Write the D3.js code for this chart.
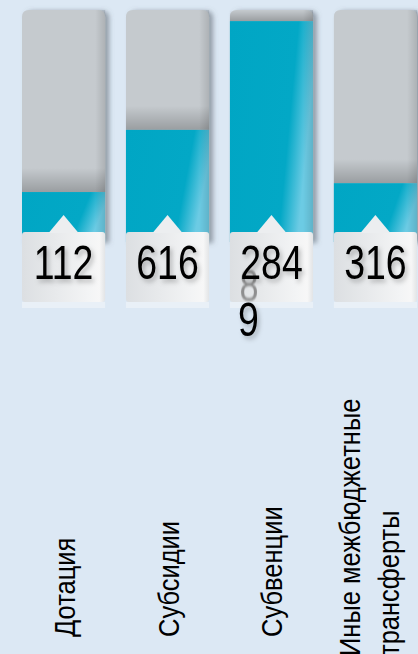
<!DOCTYPE html>
<html>
<head>
<meta charset="utf-8">
<script src="https://cdn.jsdelivr.net/npm/d3@7"></script>
<style>
  html, body { margin: 0; padding: 0; background: #dce8f4; }
  svg { display: block; }
</style>
</head>
<body>
<svg id="chart"></svg>
<script>
// Data
const categories = ["Дотация", "Субсидии", "Субвенции", "Иные межбюджетные трансферты"];
const categoryLines = [["Дотация"], ["Субсидии"], ["Субвенции"], ["Иные межбюджетные", "трансферты"]];
const valueLabels = [["112"], ["616"], ["284", "9"], ["316"]];
const fillPercent = [18, 46, 95, 22];

const W = 418, H = 654;
const svg = d3.select("#chart").attr("width", W).attr("height", H);

const defs = svg.append("defs");

// drop shadow for the grey tracks
const sh = defs.append("filter").attr("id", "trackShadow")
    .attr("x", "-20%").attr("y", "-10%").attr("width", "150%").attr("height", "130%");
sh.append("feDropShadow").attr("dx", 4).attr("dy", 1).attr("stdDeviation", 2.5)
    .attr("flood-color", "#55606a").attr("flood-opacity", 0.55);

const txtSh = defs.append("filter").attr("id", "textShadow")
    .attr("x", "-20%").attr("y", "-20%").attr("width", "150%").attr("height", "150%");
txtSh.append("feDropShadow").attr("dx", 3).attr("dy", 3).attr("stdDeviation", 2.5)
    .attr("flood-color", "#000").attr("flood-opacity", 0.25);

const blur = defs.append("filter").attr("id", "ghostBlur");
blur.append("feGaussianBlur").attr("stdDeviation", 0.8);

const teal = defs.append("linearGradient").attr("id", "tealGrad")
    .attr("x1", 0).attr("y1", 0).attr("x2", 1).attr("y2", 0.25);
teal.append("stop").attr("offset", "0%").attr("stop-color", "#00a6c4");
teal.append("stop").attr("offset", "78%").attr("stop-color", "#03a8c6");
teal.append("stop").attr("offset", "100%").attr("stop-color", "#6ccbe4");

const rightShade = defs.append("linearGradient").attr("id", "rightShade")
    .attr("x1", 0).attr("y1", 0).attr("x2", 1).attr("y2", 0);
rightShade.append("stop").attr("offset", "0%").attr("stop-color", "#000").attr("stop-opacity", 0);
rightShade.append("stop").attr("offset", "88%").attr("stop-color", "#000").attr("stop-opacity", 0);
rightShade.append("stop").attr("offset", "100%").attr("stop-color", "#000").attr("stop-opacity", 0.12);

const topShade = defs.append("linearGradient").attr("id", "topShade")
    .attr("x1", 0).attr("y1", 0).attr("x2", 0).attr("y2", 1);
topShade.append("stop").attr("offset", "0%").attr("stop-color", "#000").attr("stop-opacity", 0);
topShade.append("stop").attr("offset", "100%").attr("stop-color", "#000").attr("stop-opacity", 0.22);

const boxGrad = defs.append("linearGradient").attr("id", "boxGrad")
    .attr("x1", 0).attr("y1", 0).attr("x2", 1).attr("y2", 0);
boxGrad.append("stop").attr("offset", "0%").attr("stop-color", "#dcdfe2");
boxGrad.append("stop").attr("offset", "80%").attr("stop-color", "#f3f4f5");
boxGrad.append("stop").attr("offset", "93%").attr("stop-color", "#f7f7f7");
boxGrad.append("stop").attr("offset", "100%").attr("stop-color", "#e2e4e6");

svg.append("rect").attr("width", W).attr("height", H).attr("fill", "#dce8f4");

// scales
const x = d3.scaleBand().domain(categories).range([22, 417]).paddingInner(0.2).paddingOuter(0);
const y = d3.scaleLinear().domain([0, 100]).range([232, 10]);
const bw = x.bandwidth();
const boxTop = y(0), boxBottom = 302;
const numFont = "'Liberation Sans', Arial, sans-serif";
const numScale = 0.78;

const rows = categories.map((c, i) => ({ cat: c, pct: fillPercent[i], label: valueLabels[i], lines: categoryLines[i] }));

const g = svg.append("g").selectAll("g.col").data(rows).join("g").attr("class", "col");

// grey track
g.append("path")
    .attr("d", d => {
        const x0 = x(d.cat), x1 = x0 + bw, t = y(100), b = boxTop + 10, r = 7;
        return `M${x0},${b}V${t + r}Q${x0},${t} ${x0 + r},${t}H${x1 - r}Q${x1},${t} ${x1},${t + r}V${b}Z`;
    })
    .attr("fill", "#c5cace")
    .attr("filter", "url(#trackShadow)");

// shadow cast above teal fill
g.append("rect")
    .attr("x", d => x(d.cat)).attr("width", bw)
    .attr("y", d => Math.max(y(100), y(d.pct) - 24))
    .attr("height", d => y(d.pct) - Math.max(y(100), y(d.pct) - 24))
    .attr("fill", "url(#topShade)");

// teal fill
g.append("rect")
    .attr("x", d => x(d.cat)).attr("width", bw)
    .attr("y", d => y(d.pct))
    .attr("height", d => boxTop + 10 - y(d.pct))
    .attr("fill", "url(#tealGrad)");

// right edge shading
g.append("rect")
    .attr("x", d => x(d.cat)).attr("width", bw)
    .attr("y", y(100)).attr("height", boxTop + 10 - y(100))
    .attr("fill", "url(#rightShade)");

// reflection below box
g.append("rect")
    .attr("x", d => x(d.cat)).attr("width", bw)
    .attr("y", boxBottom).attr("height", 6)
    .attr("fill", "#eef3f8").attr("opacity", 0.7);

// label box
g.append("rect")
    .attr("x", d => x(d.cat)).attr("width", bw)
    .attr("y", boxTop).attr("height", boxBottom - boxTop)
    .attr("rx", 3)
    .attr("fill", "url(#boxGrad)");

// notch
g.append("path")
    .attr("d", d => {
        const cx = x(d.cat) + bw / 2;
        return `M${cx - 15},${boxTop + 1}L${cx - 5},${boxTop - 11}L${cx},${boxTop - 17}L${cx + 5},${boxTop - 11}L${cx + 15},${boxTop + 1}Z`;
    })
    .attr("fill", "#eceef0");

// value labels (narrow look: scaled horizontally)
const vg = g.append("g")
    .attr("transform", d => `translate(${x(d.cat) + bw / 2},0) scale(${numScale},1)`);

// ghost digit behind wrapped value (as in the original)
vg.filter(d => d.label.length > 1).append("text")
    .attr("x", -41)
    .attr("y", 301)
    .attr("font-family", numFont)
    .attr("font-size", 44)
    .attr("fill", "#7a7a7a")
    .attr("opacity", 0.8)
    .attr("filter", "url(#ghostBlur)")
    .text("8");

vg.append("text")
    .attr("font-family", numFont)
    .attr("font-size", 48)
    .attr("fill", "#000")
    .attr("filter", "url(#textShadow)")
    .each(function(d) {
        const t = d3.select(this);
        d.label.forEach((s, i) => {
            t.append("tspan")
                .attr("x", i === 0 ? 0 : -43)
                .attr("y", 279 + i * 57)
                .attr("text-anchor", i === 0 ? "middle" : "start")
                .text(s);
        });
    });

// category labels, rotated
g.append("text")
    .attr("font-family", "'Liberation Sans', Arial, sans-serif")
    .attr("font-size", 30)
    .attr("fill", "#000")
    .attr("transform", d => {
        const n = d.lines.length;
        const bx = x(d.cat) + bw / 2 + 11 - (n - 1) * 26.5;
        const by = n > 1 ? 656 : 637;
        return `translate(${bx},${by}) rotate(-90) scale(0.85,1)`;
    })
    .each(function(d) {
        const t = d3.select(this);
        d.lines.forEach((s, i) => {
            t.append("tspan").attr("x", 0).attr("y", i * 39).text(s);
        });
    });
</script>
</body>
</html>
